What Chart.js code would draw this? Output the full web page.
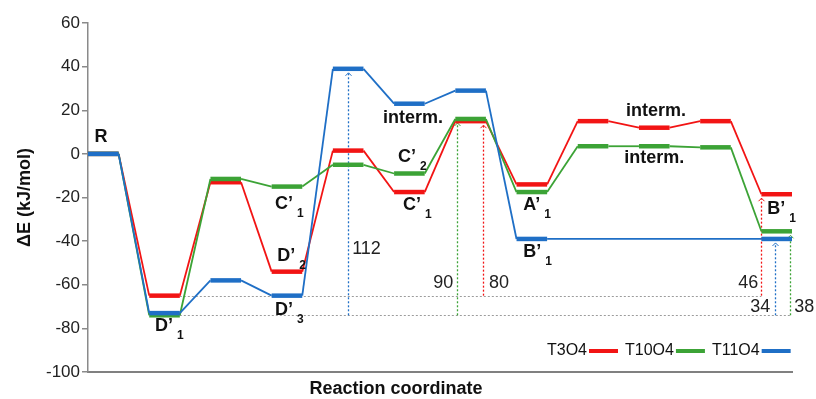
<!DOCTYPE html>
<html>
<head>
<meta charset="utf-8">
<script src="https://cdn.jsdelivr.net/npm/chart.js@4"></script>
<style>
html, body { margin: 0; padding: 0; background: #fff; }
</style>
</head>
<body>
<canvas id="profile-chart" width="816" height="399"></canvas>
<script>
// energy of each stage (kJ/mol), 12 stages left to right, null = no level
const stages = ['R', 'D’1', 'TS1', 'C’1 / D’2 / D’3', 'TS2', 'C’2 / C’1', 'TS3', 'A’1 / B’1', 'TS4', 'interm.', 'TS5', 'B’1'];
const t3o4 = [0, -65, -13, -54, 1.5, -17.5, 15, -14, 15, 12, 15, -18.5];
const t10o4 = [0, -74, -11.5, -15, -5, -9, 16, -17.5, 3.5, 3.5, 3, -35.5];
const t11o4 = [0, -73, -58, -65, 39, 23, 29, -39, null, null, null, -39];
const yTicks = [-100, -80, -60, -40, -20, 0, 20, 40, 60];

const RED = '#f21414';
const GREEN = '#3ca336';
const BLUE = '#1f6fc6';
const FONT = '"Liberation Sans", Arial, sans-serif';

// barrier arrows: x position (stage units), from / to energy
const arrows = [
    { x: 8.5, from: -74, to: 39, color: BLUE },
    { x: 12.05, from: -74, to: 16, color: GREEN },
    { x: 12.9, from: -65, to: 15, color: RED },
    { x: 22.0, from: -65, to: -18.5, color: RED },
    { x: 22.45, from: -74, to: -39, color: BLUE },
    { x: 22.95, from: -74, to: -35.5, color: GREEN }
];
const guides = [
    { from: 3, to: 22, y: -65 },
    { from: 3, to: 22.95, y: -74 }
];
const barrierLabels = [
    { text: '112', x: 8.63, y: -43.6, align: 'left' },
    { text: '90', x: 11.93, y: -59.1, align: 'right' },
    { text: '80', x: 13.1, y: -59.1, align: 'left' },
    { text: '46', x: 21.9, y: -59.1, align: 'right' },
    { text: '34', x: 22.29, y: -70.2, align: 'right' },
    { text: '38', x: 23.07, y: -70.2, align: 'left' }
];
const stageLabels = [
    { text: 'R', sub: '', x: 0.21, y: 7.8 },
    { text: 'D’', sub: '1', x: 2.19, y: -78.9 },
    { text: 'C’', sub: '1', x: 6.11, y: -22.9 },
    { text: 'D’', sub: '2', x: 6.18, y: -46.8 },
    { text: 'D’', sub: '3', x: 6.11, y: -71.5 },
    { text: 'interm.', sub: '', x: 9.64, y: 16.5 },
    { text: 'C’', sub: '2', x: 10.13, y: -1.4 },
    { text: 'C’', sub: '1', x: 10.29, y: -23.4 },
    { text: 'A’', sub: '1', x: 14.22, y: -23.4 },
    { text: 'B’', sub: '1', x: 14.22, y: -44.9 },
    { text: 'interm.', sub: '', x: 17.58, y: 19.7 },
    { text: 'interm.', sub: '', x: 17.52, y: -1.8 },
    { text: 'B’', sub: '1', x: 22.19, y: -25.2 }
];
const legendItems = [
    { text: 'T3O4', color: RED },
    { text: 'T10O4', color: GREEN },
    { text: 'T11O4', color: BLUE }
];

function levelPoints(levels) {
    let pts = [];
    levels.forEach((v, i) => {
        if (v === null) return;
        pts.push({ x: 2 * i, y: v }, { x: 2 * i + 1, y: v });
    });
    return pts;
}

const isLevel = ctx => ctx.p0.parsed.x % 2 === 0 && ctx.p1.parsed.x - ctx.p0.parsed.x === 1;

function series(label, levels, color, order) {
    return {
        label: label,
        data: levelPoints(levels),
        borderColor: color,
        borderWidth: 1.8,
        pointRadius: 0,
        tension: 0,
        order: order,
        segment: {
            borderWidth: ctx => isLevel(ctx) ? 4.5 : 1.8
        }
    };
}

const overlay = {
    id: 'overlay',
    beforeDatasetsDraw(chart) {
        const { ctx, scales: { x, y } } = chart;
        ctx.save();
        ctx.lineWidth = 1;
        ctx.setLineDash([2, 2]);
        ctx.strokeStyle = '#9c9c9c';
        guides.forEach(g => {
            const py = Math.round(y.getPixelForValue(g.y)) + 0.5;
            ctx.beginPath();
            ctx.moveTo(x.getPixelForValue(g.from), py);
            ctx.lineTo(x.getPixelForValue(g.to), py);
            ctx.stroke();
        });
        ctx.lineWidth = 1.3;
        arrows.forEach(a => {
            const px = Math.round(x.getPixelForValue(a.x)) + 0.5;
            const y0 = y.getPixelForValue(a.from);
            const y1 = y.getPixelForValue(a.to) + 4;
            ctx.strokeStyle = a.color;
            ctx.setLineDash([2, 2]);
            ctx.beginPath();
            ctx.moveTo(px, y0);
            ctx.lineTo(px, y1);
            ctx.stroke();
            ctx.setLineDash([]);
            ctx.lineWidth = 1;
            ctx.beginPath();
            ctx.moveTo(px - 3, y1 + 3);
            ctx.lineTo(px, y1);
            ctx.lineTo(px + 3, y1 + 3);
            ctx.stroke();
            ctx.lineWidth = 1.3;
        });
        ctx.restore();
    },
    afterDatasetsDraw(chart) {
        const { ctx, scales: { x, y } } = chart;
        ctx.save();
        ctx.fillStyle = '#111';
        ctx.textBaseline = 'middle';

        // stage names with subscripts
        stageLabels.forEach(l => {
            const px = x.getPixelForValue(l.x);
            const py = y.getPixelForValue(l.y);
            ctx.font = 'bold 18px ' + FONT;
            ctx.textAlign = 'left';
            ctx.fillText(l.text, px, py);
            if (l.sub) {
                const w = ctx.measureText(l.text).width;
                ctx.font = 'bold 12px ' + FONT;
                ctx.fillText(l.sub, px + w + 4, py + 10);
            }
        });

        // barrier values
        ctx.font = '18px ' + FONT;
        ctx.fillStyle = '#222';
        barrierLabels.forEach(l => {
            ctx.textAlign = l.align;
            ctx.fillText(l.text, x.getPixelForValue(l.x), y.getPixelForValue(l.y));
        });

        // legend, swatch after the name
        ctx.font = '16px ' + FONT;
        ctx.textAlign = 'left';
        let lx = 547;
        const ly = 351;
        legendItems.forEach(item => {
            ctx.fillStyle = '#111';
            ctx.fillText(item.text, lx, ly);
            lx += ctx.measureText(item.text).width + 2;
            ctx.strokeStyle = item.color;
            ctx.lineWidth = 4;
            ctx.beginPath();
            ctx.moveTo(lx, ly);
            ctx.lineTo(lx + 29, ly);
            ctx.stroke();
            lx += 29 + 7;
        });

        // x axis title
        ctx.font = 'bold 18px ' + FONT;
        ctx.textAlign = 'center';
        ctx.fillStyle = '#111';
        ctx.fillText('Reaction coordinate', 396, 389);
        ctx.restore();
    }
};

const chart = new Chart(document.getElementById('profile-chart').getContext('2d'), {
    type: 'line',
    data: {
        datasets: [
            series('T11O4', t11o4, BLUE, 1),
            series('T10O4', t10o4, GREEN, 2),
            series('T3O4', t3o4, RED, 3)
        ]
    },
    options: {
        responsive: false,
        animation: false,
        layout: {
            padding: { top: 23, right: 24, bottom: 0, left: 0 }
        },
        plugins: {
            legend: { display: false },
            tooltip: { enabled: false }
        },
        scales: {
            x: {
                type: 'linear',
                min: 0,
                max: 2 * stages.length - 1,
                ticks: { display: false },
                grid: { display: false },
                border: { display: true, color: '#808080', width: 2 },
                afterFit: s => { s.height = 27; }
            },
            y: {
                min: -100,
                max: 60,
                afterBuildTicks: s => { s.ticks = yTicks.map(v => ({ value: v })); },
                ticks: {
                    color: '#222',
                    padding: 2,
                    font: { family: FONT, size: 17 }
                },
                grid: {
                    drawOnChartArea: false,
                    drawTicks: true,
                    tickLength: 6,
                    color: '#8a8a8a',
                    lineWidth: 1.5
                },
                border: { display: true, color: '#8a8a8a', width: 1.5 },
                title: {
                    display: true,
                    text: 'ΔE (kJ/mol)',
                    color: '#111',
                    font: { family: FONT, size: 18, weight: 'bold' },
                    padding: { top: 14, bottom: 0 }
                },
                afterFit: s => { s.width = 88; }
            }
        }
    },
    plugins: [overlay]
});
</script>
</body>
</html>
